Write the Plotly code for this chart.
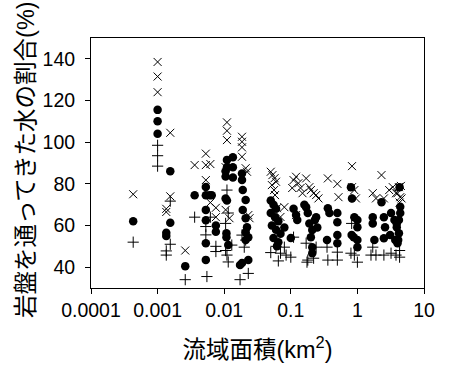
import plotly.graph_objects as go

# ---- data ----
cross_x = [0.00043,
           0.001, 0.001, 0.001,
           0.00135, 0.00135,
           0.00155, 0.00155,
           0.0026, 0.0036,
           0.0053, 0.0053, 0.0053,
           0.0062, 0.0062,
           0.0075, 0.0075,
           0.011, 0.011, 0.011, 0.0105, 0.0105, 0.012,
           0.0185, 0.0185, 0.0185, 0.0185, 0.021, 0.022, 0.023, 0.024,
           0.05, 0.053, 0.057, 0.06, 0.052, 0.056, 0.058, 0.062, 0.07,
           0.08,
           0.105, 0.11, 0.12, 0.13, 0.14, 0.15, 0.12,
           0.17, 0.19, 0.2, 0.22, 0.24, 0.26,
           0.36, 0.5, 0.52,
           0.83, 0.83, 0.9, 0.95,
           1.7, 1.9,
           2.3, 2.5,
           3.0, 3.4, 3.8,
           4.2, 4.0, 4.4, 4.6, 4.3, 4.5]
cross_y = [75,
           138.5, 131.5, 124,
           68, 66.5,
           104.5, 74,
           48, 89,
           94.5, 89, 81.8,
           89.5, 71,
           68.5, 64,
           109.5, 105.5, 101, 88, 67.5, 63.5,
           102.6, 100.2, 97.5, 93, 87.5, 85.8, 65, 63.5,
           85.8, 84.2, 82.7, 81, 79.4, 77, 74.6, 68.3, 64.1,
           68.8,
           78, 81.8, 83.4, 80.3, 78, 75.5, 65,
           82.6, 78.4, 77, 75.5, 74.6, 73,
           82.6, 80, 73.6,
           88.5, 78.4, 77, 73,
           75.5, 73,
           84.2, 73,
           77, 78.4, 75.5,
           78.4, 75.5, 73.6, 73, 71, 79]

circle_x = [0.00043,
            0.001, 0.001, 0.001,
            0.00135, 0.00135,
            0.00155, 0.00155,
            0.0026, 0.0036,
            0.0053, 0.0053, 0.0053, 0.0053, 0.0053, 0.0053,
            0.006, 0.0065,
            0.0075, 0.0075,
            0.011, 0.011, 0.0105, 0.0105, 0.0105, 0.011, 0.0108, 0.0108, 0.0115,
            0.0135, 0.0135, 0.0135,
            0.0173,
            0.0185, 0.0185, 0.019, 0.021, 0.019, 0.021, 0.022, 0.021, 0.023, 0.023, 0.021, 0.0185,
            0.05, 0.055, 0.06, 0.05, 0.058, 0.065, 0.052, 0.06, 0.07, 0.055, 0.065, 0.062,
            0.08,
            0.1, 0.12, 0.125, 0.11,
            0.17, 0.18, 0.19, 0.21, 0.23, 0.25, 0.2, 0.21, 0.21, 0.16, 0.24,
            0.36, 0.38, 0.35,
            0.5, 0.5, 0.5, 0.5,
            0.8, 0.9, 1.0, 1.0, 0.82, 0.88, 1.0, 1.0, 0.83,
            1.7, 1.7, 1.8,
            2.3, 2.5, 2.6, 2.5,
            3.2, 3.6, 3.9, 3.1, 3.7,
            4.3, 4.4, 4.2, 3.9, 4.2, 4.1, 4.0, 4.4]
circle_y = [62,
            115.5, 110, 104,
            56.5, 55,
            86, 61.3,
            40.5, 74.5,
            78.5, 74.5, 67.5, 62.5, 51.5, 43.5,
            74.5, 74.5,
            57, 60,
            91.5, 88, 86, 83.5, 73, 72, 56.3, 54.4, 50.6,
            92.8, 88, 83,
            41,
            85, 81.8, 77, 72.2, 67.4, 63.5, 59.2, 56.8, 54.4, 43.4, 53, 42,
            72, 70, 68, 66, 64, 62, 60, 58, 56, 54, 52, 50,
            59,
            54, 65, 62.6, 68,
            68.8, 66, 61, 57.8, 62.6, 59, 54.4, 49.6, 46.7, 70, 64,
            68.3, 66, 53,
            66, 61.6, 55.4, 51.5,
            78.4, 64, 62.6, 59.2, 55.4, 54.4, 53, 49.6, 73,
            64, 61, 53,
            71.2, 64, 59.2, 53.9,
            66, 62.6, 59.2, 55.4, 53,
            78.4, 66, 62.6, 61, 56.3, 53, 51.5, 69]

plus_x = [0.00043,
          0.001, 0.001, 0.001,
          0.00135, 0.00135,
          0.00155, 0.00155,
          0.0026, 0.0036,
          0.0053, 0.0053, 0.0055,
          0.0062,
          0.0075, 0.0075,
          0.011, 0.0115, 0.0105, 0.0105, 0.011, 0.013, 0.0115,
          0.0173,
          0.0185, 0.021, 0.02, 0.023,
          0.05, 0.065, 0.07, 0.06,
          0.08, 0.085,
          0.11, 0.1,
          0.17, 0.18, 0.175, 0.22, 0.24,
          0.36, 0.35,
          0.5, 0.5,
          0.8, 0.9, 1.0, 0.82,
          1.7, 1.6, 1.9,
          2.5,
          3.2, 3.8,
          4.3, 4.3]
plus_y = [52,
          98.5, 93.5, 88.5,
          47.8, 45.8,
          71.7, 51,
          34, 64,
          59.5, 55.5, 35.5,
          64,
          47.5, 50,
          77, 66, 61, 48, 45.8, 50.6, 42.5,
          34,
          55.4, 53, 49.6, 37,
          47, 43, 46.7, 50,
          49.6, 45.8,
          54.4, 44.8,
          51.5, 43.4, 42.4, 44.3, 49.6,
          43.4, 49.6,
          47.2, 43.4,
          46.7, 45.8, 42.4, 61,
          49.6, 45.8, 45.8,
          45.8,
          46.7, 45.8,
          48, 44.8]

x_tick_vals = [0.0001, 0.001, 0.01, 0.1, 1, 10]
x_tick_text = ["0.0001", "0.001", "0.01", "0.1", "1", "10"]
y_tick_vals = [40, 60, 80, 100, 120, 140]
x_title = "流域面積(km<sup>2</sup>)"
y_title = "岩盤を通ってきた水の割合(%)"

FONT = "Liberation Sans, Arial, Noto Sans CJK JP, sans-serif"

fig = go.Figure()
fig.add_trace(go.Scatter(x=cross_x, y=cross_y, mode="markers",
                         marker=dict(symbol="x-thin-open", size=8, color="black",
                                     line=dict(width=1, color="black"))))
fig.add_trace(go.Scatter(x=circle_x, y=circle_y, mode="markers",
                         marker=dict(symbol="circle", size=8.5, color="black",
                                     line=dict(width=0))))
fig.add_trace(go.Scatter(x=plus_x, y=plus_y, mode="markers",
                         marker=dict(symbol="cross-thin-open", size=8, color="black",
                                     line=dict(width=1, color="black"))))

fig.update_layout(
    width=455, height=369,
    margin=dict(l=91, r=31, t=38, b=81),
    paper_bgcolor="white", plot_bgcolor="white",
    showlegend=False,
    font=dict(family=FONT, size=19.5, color="black"),
)
fig.update_xaxes(
    type="log", range=[-4, 1],
    tickvals=x_tick_vals, ticktext=x_tick_text,
    ticks="outside", ticklen=5, tickcolor="black",
    showline=True, linecolor="black", linewidth=1, mirror=True,
    showgrid=False, zeroline=False, automargin=False,
    tickfont=dict(size=19.5),
    title=dict(text=x_title, font=dict(size=23.5), standoff=21),
)
fig.update_yaxes(
    range=[30, 150],
    tickvals=y_tick_vals,
    ticks="outside", ticklen=5, tickcolor="black",
    showline=True, linecolor="black", linewidth=1, mirror=True,
    showgrid=False, zeroline=False, automargin=False,
    tickfont=dict(size=19.5),
    ticklabelstandoff=6,
)
fig.add_annotation(
    text=y_title, textangle=-90,
    xref="paper", yref="paper", x=0, y=0.5,
    xanchor="center", yanchor="middle", xshift=-65, yshift=3,
    showarrow=False, font=dict(size=23.5, color="black"),
)

fig.write_html("out.html", config={"displayModeBar": False},
               post_script="document.body.style.margin='0';document.body.style.padding='0';")
